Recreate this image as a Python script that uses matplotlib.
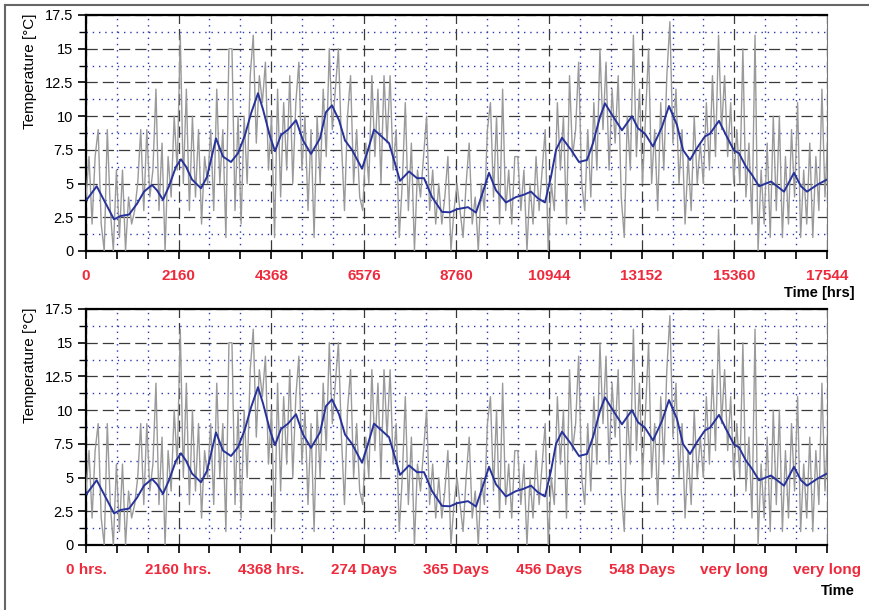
import numpy as np
import matplotlib
matplotlib.use("Agg")
import matplotlib.pyplot as plt
from matplotlib.ticker import FixedLocator, MultipleLocator, FuncFormatter
from matplotlib.lines import Line2D

plt.rcParams['font.family'] = ['Liberation Sans', 'DejaVu Sans']

# sampled temperature (grey), one value every 72 hours
step_hours = 72
raw_temp = [
    4, 7, 2, 7, 9, 2, 0, 9, 3, 0, 6, 1, 6, 0, 4, 2, 3, 5, 9, 3,
    9, 4, 6, 12, 3, 8, 0, 7, 4, 10, 6, 16, 5, 12, 3, 10, 4, 9, 2, 7,
    5, 9, 3, 12, 5, 9, 1, 15, 15, 3, 10, 2, 10, 5, 13, 16, 8, 13, 11, 14,
    6, 10, 1, 12, 4, 11, 6, 13, 5, 11, 14, 6, 10, 3, 9, 1, 10, 5, 12, 7,
    15, 9, 12, 15, 8, 3, 10, 13, 5, 9, 4, 3, 8, 5, 13, 7, 12, 5, 13, 8,
    13, 6, 9, 1, 5, 11, 3, 8, 0, 6, 4, 7, 10, 3, 6, 2, 5, 2, 4, 7,
    0, 3, 5, 3, 1, 5, 8, 2, 4, 0, 5, 3, 9, 11, 4, 10, 2, 12, 3, 6,
    2, 7, 7, 3, 6, 0, 5, 2, 7, 3, 6, 9, 0, 5, 3, 11, 6, 10, 2, 13,
    7, 9, 14, 5, 3, 9, 4, 11, 6, 15, 9, 14, 6, 12, 8, 13, 4, 1, 10, 6,
    16, 7, 12, 5, 10, 15, 5, 9, 3, 11, 6, 13, 17, 8, 12, 5, 9, 2, 7, 3,
    10, 5, 8, 5, 11, 6, 13, 7, 16, 9, 13, 7, 11, 5, 9, 5, 15, 4, 8, 2,
    16, 0, 6, 2, 8, 1, 10, 3, 10, 1, 7, 2, 9, 4, 11, 1, 6, 2, 8, 1,
    7, 3, 12, 4, 9,
]
raw_hours = np.arange(len(raw_temp)) * step_hours

# smoothed temperature (blue)
smooth_hours = [
    17, 253, 663, 822, 1018, 1207, 1373, 1563, 1681, 1823, 1965, 2131, 2249, 2368,
    2510, 2723, 2865, 3078, 3244, 3433, 3599, 3765, 3907, 4073, 4191, 4357, 4475,
    4617, 4783, 4972, 5138, 5327, 5540, 5682, 5824, 5990, 6132, 6298, 6535, 6653,
    6819, 6961, 7174, 7316, 7434, 7647, 7837, 8003, 8192, 8429, 8618, 8784, 9044,
    9234, 9400, 9541, 9707, 9944, 10181, 10346, 10536, 10702, 10867, 11009, 11128,
    11270, 11483, 11672, 11862, 12004, 12170, 12288, 12453, 12690, 12927, 13069,
    13235, 13424, 13637, 13803, 13992, 14134, 14300, 14490, 14655, 14774, 14987,
    15153, 15342, 15460, 15626, 15768, 15934, 16218, 16526, 16762, 16928, 17070,
    17307, 17544,
]
smooth_temp = [
    3.8, 4.8, 2.35, 2.6, 2.7, 3.5, 4.4, 4.9, 4.5, 3.8, 4.8, 6.25, 6.8, 6.25,
    5.3, 4.65, 5.5, 8.35, 7.0, 6.6, 7.25, 8.6, 10.2, 11.7, 10.5, 8.5, 7.4,
    8.6, 9.0, 9.7, 8.2, 7.2, 8.35, 10.3, 10.8, 9.7, 8.2, 7.5, 6.1, 7.25,
    9.0, 8.6, 8.0, 6.5, 5.2, 5.9, 5.4, 5.4, 4.0, 2.9, 2.87, 3.1, 3.25,
    2.85, 4.4, 5.8, 4.5, 3.6, 4.0, 4.15, 4.4, 3.9, 3.6, 5.5, 7.5,
    8.4, 7.5, 6.6, 6.75, 8.0, 9.95, 10.95, 10.1, 8.95, 10.0, 9.1,
    8.7, 7.75, 9.2, 10.75, 9.35, 7.5, 6.75, 7.75, 8.5, 8.7, 9.65,
    8.6, 7.45, 7.25, 6.25, 5.65, 4.8, 5.15, 4.4, 5.8, 4.8, 4.4,
    4.9, 5.3,
]

x_max = 17544
major_ticks = np.linspace(0, x_max, 9)
labels_top = ["0", "2160", "4368", "6576", "8760", "10944", "13152", "15360", "17544"]
labels_bottom = ["0 hrs.", "2160 hrs.", "4368 hrs.", "274 Days", "365 Days",
                 "456 Days", "548 Days", "very long", "very long"]
y_ticks = [0, 2.5, 5, 7.5, 10, 12.5, 15, 17.5]

red = "#ee2a3c"

fig = plt.figure(figsize=(8.7, 6.1), dpi=100)


def draw_panel(ax, labels):
    ax.plot(raw_hours, raw_temp, color="#9a9a9a", lw=1.0, zorder=3)
    ax.plot(smooth_hours, smooth_temp, color="#27339a", lw=1.4, zorder=4)
    ax.set_xlim(0, x_max)
    ax.set_ylim(0, 17.5)
    ax.xaxis.set_major_locator(FixedLocator(major_ticks))
    ax.xaxis.set_minor_locator(MultipleLocator(x_max / 24))
    ax.yaxis.set_major_locator(FixedLocator(y_ticks))
    ax.yaxis.set_minor_locator(MultipleLocator(1.25))
    ax.yaxis.set_major_formatter(FuncFormatter(lambda v, p: f"{v:g}"))
    ax.set_xticklabels(labels)
    ax.grid(which="major", color="#3a3a3a", lw=0.9, linestyle=(0, (9, 4)), zorder=1)
    ax.grid(which="minor", color="#2a3aaa", lw=1.0, linestyle=(0, (1, 3.5)), zorder=1)
    ax.tick_params(axis="x", which="both", direction="out", length=6, width=1.2,
                   pad=7, labelsize=11, labelcolor=red)
    ax.tick_params(axis="y", which="major", direction="out", length=6, width=1.2,
                   labelsize=10.5, pad=3)
    ax.tick_params(axis="y", which="minor", direction="out", length=5, width=1.0)
    for lab in ax.get_xticklabels():
        lab.set_fontweight("bold")
    for side in ["left", "bottom", "top"]:
        ax.spines[side].set_linewidth(1.6)
        ax.spines[side].set_color("black")
    ax.spines["right"].set_linewidth(0.8)
    ax.spines["right"].set_color("#777777")
    ax.set_ylabel("Temperature [°C]", fontsize=11)
    ax.yaxis.set_label_coords(-0.066, 0.76)


ax1 = fig.add_axes([86 / 870, 1 - 251 / 610, (827 - 86) / 870, 236 / 610])
draw_panel(ax1, labels_top)
ax2 = fig.add_axes([86 / 870, 1 - 545 / 610, (827 - 86) / 870, 236 / 610])
draw_panel(ax2, labels_bottom)

fig.text(855 / 870, 1 - 293 / 610, "Time [hrs]", ha="right", va="center",
         fontsize=10.5, fontweight="bold")
fig.text(855 / 870, 1 - 591 / 610, "Time", ha="right", va="center",
         fontsize=10.5, fontweight="bold")

# outer frame
fig.add_artist(Line2D([5 / 870, 1.0], [1 - 5 / 610, 1 - 5 / 610],
                      transform=fig.transFigure, color="#666666", lw=1.5))
fig.add_artist(Line2D([5 / 870, 5 / 870], [0.0, 1 - 5 / 610],
                      transform=fig.transFigure, color="#666666", lw=1.5))

fig.savefig("out.png", dpi=100)
